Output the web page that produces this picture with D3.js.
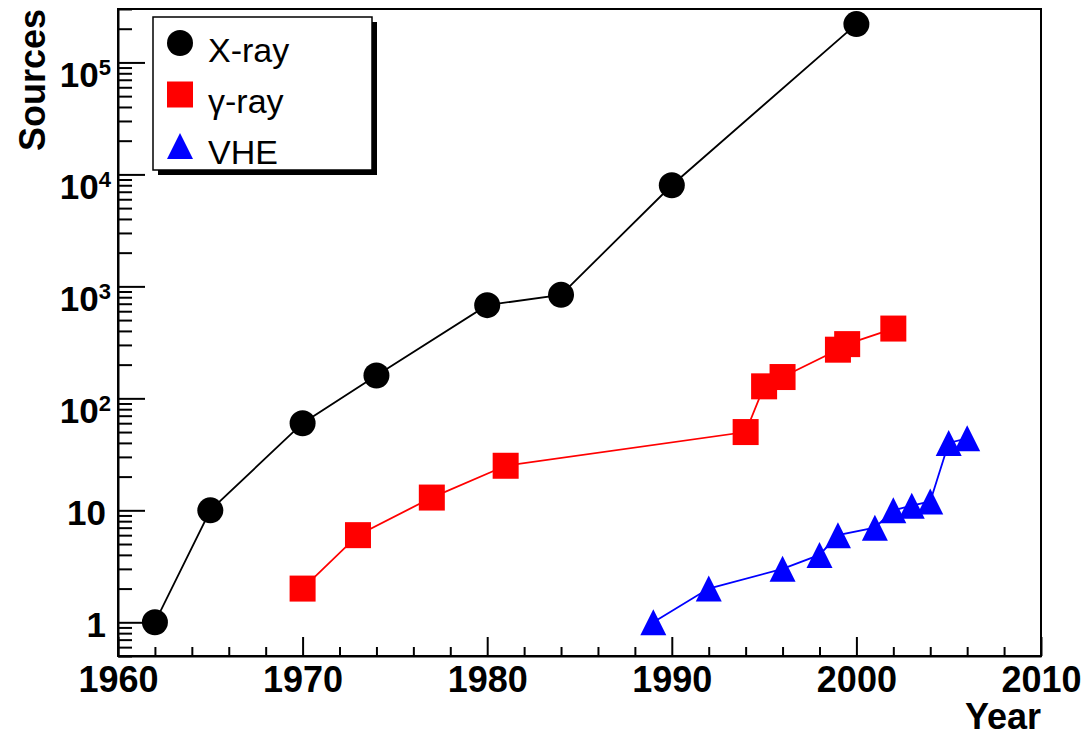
<!DOCTYPE html>
<html>
<head>
<meta charset="utf-8">
<script src="https://cdn.jsdelivr.net/npm/d3@7"></script>
<style>
  html, body { margin: 0; padding: 0; background: #fff; }
  svg { display: block; }
  text { font-family: "Liberation Sans", Arial, Helvetica, sans-serif; }
</style>
</head>
<body>
<svg id="chart" width="1088" height="738"></svg>
<script>
// Source counts per year, by band
const xrayYears  = [1962, 1965, 1970, 1974, 1980, 1984, 1990, 2000];
const xrayCounts = [1, 10, 60, 160, 680, 840, 8000, 220000];

const gammaYears  = [1970, 1973, 1977, 1981, 1994, 1995, 1996, 1999, 1999.5, 2002];
const gammaCounts = [2, 6, 13, 25, 50, 128, 155, 272, 305, 420];

const vheYears  = [1989, 1992, 1996, 1998, 1999, 2001, 2002, 2003, 2004, 2005, 2006];
const vheCounts = [1, 2, 3, 4, 6, 7, 10, 11, 12, 40, 44];

const xTickYears  = [1960, 1970, 1980, 1990, 2000, 2010];
const yTickDecades = [1, 10, 100, 1000, 10000, 100000];
const legendLabels = ["X-ray", "\u03b3-ray", "VHE"];

const series = [
  { name: legendLabels[0], years: xrayYears,  counts: xrayCounts,  color: "#000000", marker: "circle" },
  { name: legendLabels[1], years: gammaYears, counts: gammaCounts, color: "#ff0000", marker: "square" },
  { name: legendLabels[2], years: vheYears,   counts: vheCounts,   color: "#0000ff", marker: "triangle" }
];

const frame = { left: 118, right: 1041, top: 9, bottom: 656 };
const svg = d3.select("#chart");

const x = d3.scaleLinear().domain([1960, 2010]).range([frame.left, frame.right]);
const y = d3.scaleLog().domain([0.5, 3e5]).range([frame.bottom, frame.top]);

// Frame
svg.append("rect")
  .attr("x", frame.left).attr("y", frame.top)
  .attr("width", frame.right - frame.left).attr("height", frame.bottom - frame.top)
  .attr("fill", "none").attr("stroke", "#000").attr("stroke-width", 2);

// Bottom axis: minor ticks every 2 years, major every 10
const minorYears = d3.range(1962, 2010, 2).filter(v => v % 10 !== 0);
svg.append("g")
  .attr("transform", `translate(0,${frame.bottom})`)
  .call(d3.axisBottom(x).tickValues(minorYears).tickSize(-9).tickFormat("").tickSizeOuter(0))
  .call(g => g.select(".domain").remove())
  .call(g => g.selectAll("line").attr("stroke-width", 2));

const xAxis = svg.append("g")
  .attr("transform", `translate(0,${frame.bottom})`)
  .call(d3.axisBottom(x).tickValues(xTickYears).tickSize(-19).tickSizeOuter(0).tickFormat(d3.format("d")));
xAxis.select(".domain").attr("stroke-width", 2);
xAxis.selectAll("line").attr("stroke-width", 2);
xAxis.selectAll("text")
  .attr("y", 36).attr("dy", 0)
  .attr("font-family", "Liberation Sans, Arial, sans-serif")
  .attr("font-weight", "bold").attr("font-size", 36).attr("fill", "#000");

// Left axis: minor ticks 2..9 per decade, major ticks at decades
const minorVals = [];
for (let e = -1; e <= 5; e++) {
  for (let m = 1; m <= 9; m++) {
    const v = m * Math.pow(10, e);
    if (m !== 1 && v >= 0.5 && v <= 3e5) minorVals.push(v);
  }
}
svg.append("g")
  .attr("transform", `translate(${frame.left},0)`)
  .call(d3.axisLeft(y).tickValues(minorVals).tickSize(-14).tickFormat("").tickSizeOuter(0))
  .call(g => g.select(".domain").remove())
  .call(g => g.selectAll("line").attr("stroke-width", 2));

const yAxis = svg.append("g")
  .attr("transform", `translate(${frame.left},0)`)
  .call(d3.axisLeft(y).tickValues(yTickDecades).tickSize(-27).tickSizeOuter(0).tickFormat(""));
yAxis.select(".domain").attr("stroke-width", 2);
yAxis.selectAll("line").attr("stroke-width", 2);

// Decade labels: plain for 1 and 10, powers of ten above
const yLabels = svg.append("g").attr("font-weight", "bold").attr("fill", "#000");
yTickDecades.forEach(v => {
  const exp = Math.round(Math.log10(v));
  if (exp <= 1) {
    yLabels.append("text")
      .attr("x", 106).attr("y", y(v) + 15)
      .attr("text-anchor", "end").attr("font-size", 35)
      .text(String(v));
  } else {
    const t = yLabels.append("text")
      .attr("x", 111).attr("y", y(v) + 25)
      .attr("text-anchor", "end").attr("font-size", 35);
    t.append("tspan").text("10");
    t.append("tspan").attr("font-size", 22).attr("dy", -12).text(String(exp));
  }
});

// Axis titles
svg.append("text")
  .attr("x", frame.right).attr("y", 729)
  .attr("text-anchor", "end").attr("font-weight", "bold").attr("font-size", 36)
  .text("Year");
svg.append("text")
  .attr("transform", `translate(45,${frame.top}) rotate(-90)`)
  .attr("text-anchor", "end").attr("font-weight", "bold").attr("font-size", 36)
  .text("Sources");

// Marker shapes
const R = 13;
function drawMarker(sel, kind, color) {
  if (kind === "circle") {
    sel.append("circle").attr("r", R).attr("fill", color);
  } else if (kind === "square") {
    sel.append("rect").attr("x", -R).attr("y", -R).attr("width", 2 * R).attr("height", 2 * R).attr("fill", color);
  } else {
    sel.append("path").attr("d", `M${-R},${R}L${R},${R}L0,${-R}Z`).attr("fill", color);
  }
}

// Series: connecting line then markers
const line = d3.line().x(d => x(d[0])).y(d => y(d[1]));
series.forEach(s => {
  const pts = s.years.map((yr, i) => [yr, s.counts[i]]);
  const g = svg.append("g");
  g.append("path").datum(pts).attr("d", line)
    .attr("fill", "none").attr("stroke", s.color).attr("stroke-width", 1.8);
  g.selectAll("g.pt").data(pts).join("g").attr("class", "pt")
    .attr("transform", d => `translate(${x(d[0])},${y(d[1])})`)
    .each(function () { drawMarker(d3.select(this), s.marker, s.color); });
});

// Legend with drop shadow
const leg = { x: 153, y: 17, w: 219, h: 153 };
svg.append("rect").attr("x", leg.x + 5).attr("y", leg.y + 5).attr("width", leg.w).attr("height", leg.h).attr("fill", "#000");
svg.append("rect").attr("x", leg.x).attr("y", leg.y).attr("width", leg.w).attr("height", leg.h)
  .attr("fill", "#fff").attr("stroke", "#000").attr("stroke-width", 1.5);
series.forEach((s, i) => {
  const cy = 43 + i * 51.5;
  const g = svg.append("g").attr("transform", `translate(180,${cy})`);
  drawMarker(g, s.marker, s.color);
  svg.append("text").attr("x", 208).attr("y", 62 + i * 51)
    .attr("font-size", 34).attr("fill", "#000").text(s.name);
});
</script>
</body>
</html>
